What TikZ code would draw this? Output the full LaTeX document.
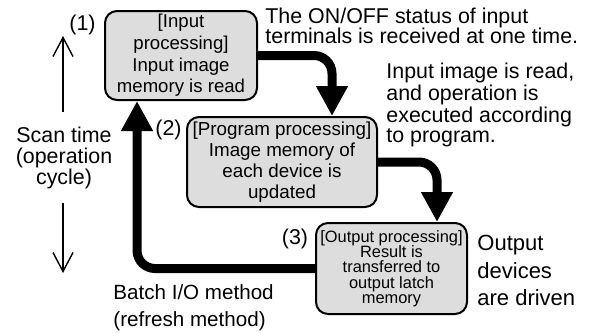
\documentclass[tikz,border=0pt]{standalone}
\usepackage{fontspec}
\setmainfont{Liberation Sans}
\usetikzlibrary{arrows.meta}
\definecolor{boxgrey}{RGB}{221,221,221}

\begin{document}
\begin{tikzpicture}[x=0.5pt,y=-0.5pt,
  stagebox/.style={draw,line width=1pt,rounded corners=6pt,fill=boxgrey,align=center,inner sep=0pt},
  flow/.style={line width=4.5pt,rounded corners=9pt,-{Triangle[length=15pt,width=15pt]}},
  scanline/.style={line width=0.7pt,-{Straight Barb[length=9.5pt,width=10pt]}},
  note/.style={align=left,inner sep=0pt,anchor=base west}]
\useasboundingbox (0,0) rectangle (589,332);
% processing stages
\node[stagebox,minimum width=76pt,minimum height=44.5pt,font=\fontsize{9.3}{10.85}\selectfont] (input) at (181,55.5) {[Input\\processing]\\Input image\\memory is read};
\node[stagebox,minimum width=95pt,minimum height=45pt,font=\fontsize{9.4}{10.6}\selectfont] (program) at (282,162) {[Program processing]\\Image memory of\\each device is\\updated};
\node[stagebox,minimum width=75.5pt,minimum height=45.5pt,font=\fontsize{8.2}{7.65}\selectfont] (output) at (391.5,268.5) {[Output processing]\\Result is\\transferred to\\output latch\\memory};
% step numbers
\node[inner sep=0pt,font=\fontsize{10.7}{12}\selectfont] (n1) at (82.5,25) {(1)};
\node[inner sep=0pt,font=\fontsize{10.7}{12}\selectfont] (n2) at (168.5,130) {(2)};
\node[inner sep=0pt,font=\fontsize{10.7}{12}\selectfont] (n3) at (295,239) {(3)};
% remarks (base = last line)
\node[note,font=\fontsize{10.7}{10}\selectfont] (inputnote) at (265,43.3) {The ON/OFF status of input\\terminals is received at one time.};
\node[note,font=\fontsize{10.7}{8.75}\selectfont] (programnote) at (386,142.7) {Input image is read,\\and operation is\\executed according\\to program.};
\node[note,font=\fontsize{11}{13.75}\selectfont] (outputnote) at (477,305.7) {Output\\devices\\are driven};
\node[note,font=\fontsize{10.3}{13.75}\selectfont] (batch) at (113,326.7) {Batch I/O method\\(refresh method)};
\node[align=center,inner sep=0pt,anchor=base,font=\fontsize{10.7}{10.5}\selectfont] (scan) at (64,184) {Scan time\\(operation\\cycle)};
% scan time arrows
\coordinate (uptop) at (63,36);
\coordinate (upfoot) at (63,112);
\coordinate (downtop) at (63,203);
\coordinate (downfoot) at (63,273);
\draw[scanline] (upfoot) -- (uptop);
\draw[scanline] (downtop) -- (downfoot);
% cycle
\draw[flow] (input.east) -| ([xshift=25pt]program.north);
\draw[flow] (program.east) -| ([xshift=22.75pt]output.north);
\draw[flow] (output.west) -| ([xshift=-22pt]input.south);
\end{tikzpicture}
\end{document}
